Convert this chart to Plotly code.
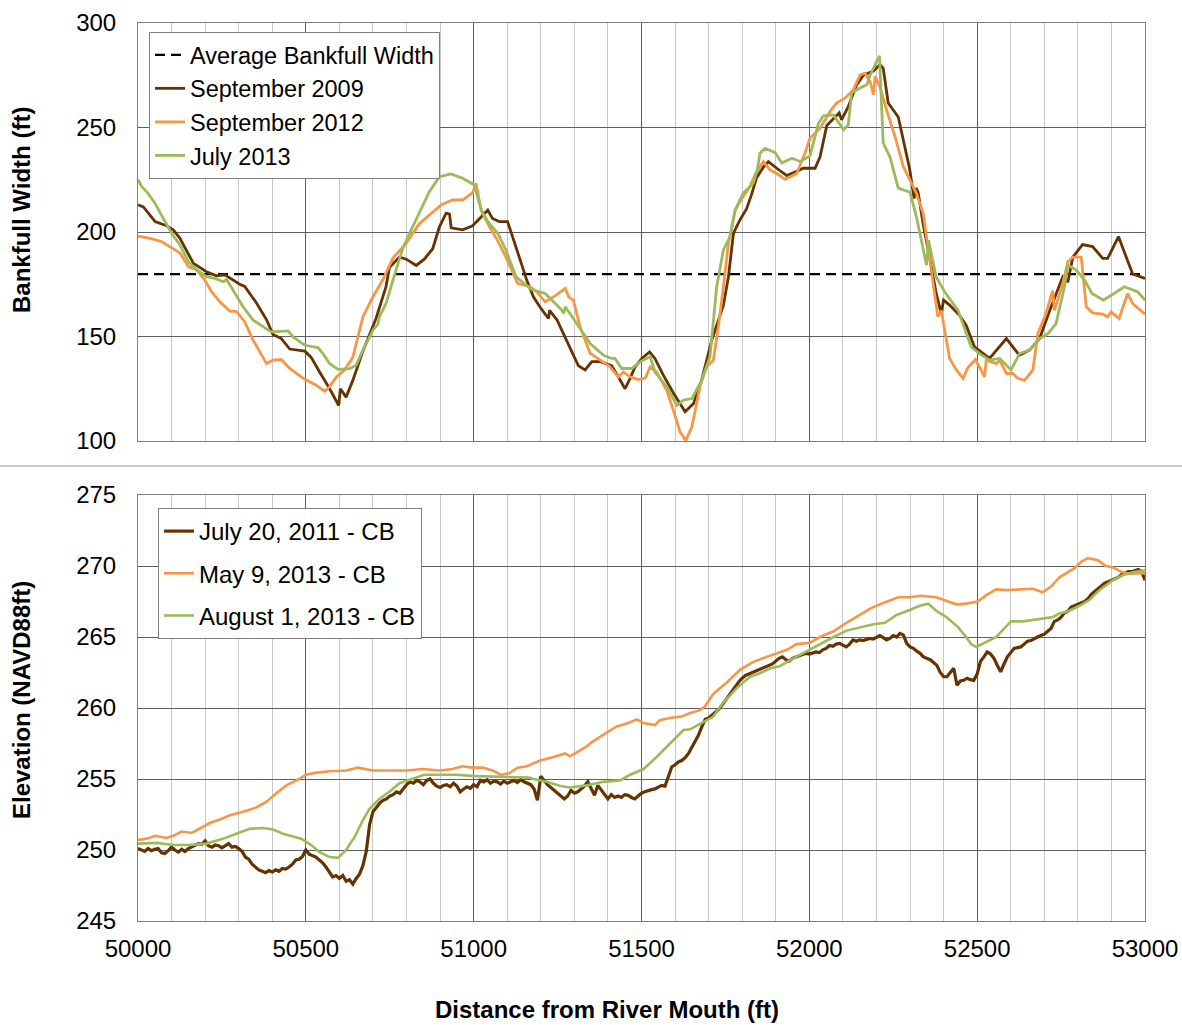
import plotly.graph_objects as go

# ---------------- Bankfull width (top panel) ----------------
avg_width = 179.8

sep2009_x = [50000, 50016, 50051, 50085, 50105, 50125, 50145, 50165, 50204, 50234, 50259, 50303,
             50318, 50353, 50383, 50402, 50427, 50452, 50497, 50516, 50541, 50571, 50598, 50603,
             50620, 50640, 50670, 50710, 50739, 50749, 50779, 50799, 50829, 50853, 50878, 50898,
             50918, 50928, 50933, 50967, 50997, 51017, 51042, 51056, 51076, 51101, 51116, 51148,
             51158, 51178, 51198, 51223, 51226, 51248, 51277, 51312, 51332, 51352, 51377, 51411,
             51431, 51451, 51466, 51481, 51501, 51524, 51540, 51565, 51595, 51630, 51655, 51679,
             51709, 51744, 51759, 51774, 51794, 51813, 51828, 51843, 51863, 51878, 51903, 51933,
             51962, 51982, 52017, 52032, 52052, 52077, 52089, 52096, 52116, 52141, 52161, 52191,
             52210, 52220, 52235, 52265, 52290, 52299, 52312, 52318, 52324, 52339, 52358, 52378,
             52393, 52400, 52418, 52448, 52467, 52492, 52537, 52587, 52626, 52656, 52686, 52715,
             52755, 52770, 52785, 52814, 52844, 52874, 52889, 52921, 52963, 53000]
sep2009_w = [213, 212, 205, 203, 201, 197, 191, 185, 181, 179, 179.5, 175,
             174, 166, 158, 151, 149, 144, 143, 140, 133, 125, 117, 125,
             121, 129, 143, 159, 174, 183, 188, 187, 184, 187, 192, 202.5,
             209, 208.6, 202, 201, 203, 206.5, 210.5, 206.5, 205, 205, 198, 182,
             177, 169, 164, 158.6, 162.5, 158, 148, 136, 134, 138, 138, 136,
             130.7, 125, 130, 135.5, 139.5, 142.6, 139.5, 131.5, 123, 114, 118, 129,
             148, 165, 178.6, 199.4, 206, 211, 218, 226, 231, 233.7, 230.5, 227,
             229, 230.5, 230.5, 236, 251, 255, 257, 253.7, 260, 270.4, 275, 277,
             280, 278.4, 261.7, 255, 237.7, 230, 216, 221, 219, 204, 188, 170.6,
             161, 167.4, 165, 160, 155.4, 145, 139.5, 149, 141, 143.5, 149, 162,
             178.6, 176, 188, 194, 193, 187.4, 187.4, 197.8, 180, 177.8]

sep2012_x = [50000, 50036, 50070, 50105, 50125, 50150, 50174, 50199, 50219, 50244, 50274, 50293,
             50318, 50343, 50383, 50402, 50427, 50452, 50492, 50531, 50556, 50571, 50591, 50615,
             50640, 50660, 50670, 50700, 50729, 50759, 50799, 50838, 50868, 50903, 50937, 50967,
             50997, 51007, 51022, 51047, 51071, 51096, 51131, 51168, 51188, 51213, 51238, 51273,
             51283, 51297, 51317, 51347, 51377, 51406, 51431, 51446, 51466, 51491, 51511, 51526,
             51545, 51575, 51595, 51615, 51632, 51650, 51674, 51694, 51714, 51729, 51744, 51759,
             51779, 51799, 51823, 51838, 51863, 51883, 51903, 51928, 51962, 51987, 52002, 52032,
             52062, 52081, 52106, 52131, 52151, 52166, 52181, 52191, 52196, 52210, 52230, 52255,
             52280, 52299, 52319, 52339, 52358, 52373, 52383, 52393, 52403, 52418, 52438, 52458,
             52472, 52495, 52522, 52527, 52557, 52567, 52587, 52606, 52621, 52641, 52666, 52681,
             52705, 52725, 52730, 52755, 52770, 52785, 52810, 52825, 52844, 52874, 52889, 52899,
             52923, 52948, 52963, 53000]
sep2012_w = [198, 197, 195.4, 191.7, 190, 183.4, 182, 177, 171.4, 166.6, 162, 162,
             157, 148.2, 137, 138.7, 139, 134.7, 130, 126.7, 123.8, 126, 130.7, 134,
             140, 153, 159.4, 169, 177, 187.4, 194.6, 204, 208, 213, 215.3, 215.3,
             218.8, 223.3, 210.5, 202.5, 196, 188, 175.4, 173.8, 171.4, 166.6, 169, 173,
             169, 167.4, 154.6, 142, 138.7, 135.5, 130.7, 133, 130.7, 129.4, 130, 135.5,
             133, 124.3, 114.7, 104.3, 100.3, 106.7, 126, 135.5, 138.7, 154.6, 173.8, 194.6,
             210.5, 216, 221.7, 227.3, 233.7, 229.7, 228, 225.2, 228, 237.7, 245, 249.7,
             257.7, 261.7, 264, 268, 275.2, 276, 272, 265.7, 274.4, 269.6, 258.5, 245.7,
             231.3, 225, 218.5, 209, 186.6, 169, 159.4, 162.5, 153, 139.5, 134, 130,
             135, 139, 130.7, 138.7, 137, 138.7, 132.3, 132.3, 130, 129, 134, 151.4,
             161, 172, 162.5, 175.4, 185.8, 188, 188, 164.2, 161.3, 160.7, 159.4, 161.8,
             158.6, 170.6, 165.8, 160.7]

jul2013_x = [50000, 50011, 50026, 50051, 50075, 50100, 50125, 50150, 50174, 50204, 50229, 50254,
             50264, 50284, 50313, 50343, 50373, 50397, 50447, 50462, 50497, 50536, 50551, 50571,
             50596, 50630, 50650, 50670, 50700, 50715, 50719, 50739, 50769, 50789, 50809, 50839,
             50868, 50898, 50933, 50967, 51002, 51017, 51027, 51047, 51072, 51096, 51126, 51173,
             51213, 51238, 51263, 51268, 51273, 51307, 51347, 51387, 51411, 51421, 51441, 51471,
             51496, 51526, 51540, 51575, 51605, 51625, 51650, 51679, 51704, 51724, 51744, 51764,
             51779, 51803, 51833, 51845, 51853, 51868, 51898, 51918, 51948, 51973, 52002, 52027,
             52042, 52072, 52102, 52116, 52126, 52151, 52171, 52181, 52191, 52209, 52220, 52240,
             52265, 52300, 52319, 52349, 52355, 52378, 52403, 52443, 52482, 52507, 52537, 52567,
             52601, 52626, 52656, 52686, 52711, 52735, 52760, 52770, 52795, 52820, 52842, 52876,
             52908, 52938, 52978, 53000]
jul2013_w = [225, 221.7, 219.3, 213.7, 206.5, 199.4, 193.8, 185.8, 182, 178.6, 177.8, 176.2,
             177.3, 172.2, 164.2, 157.8, 154.6, 152.2, 152.7, 149.8, 145.8, 144.7, 141.8, 137,
             134.3, 134.6, 136.3, 143.5, 153, 156, 159.4, 165.8, 182, 192.2, 199.4, 209.7,
             219.3, 226.5, 227.8, 225.7, 222.5, 213.7, 209, 204, 199.4, 191.4, 178.6, 172.5,
             170.6, 166.6, 162.5, 161, 164.2, 156.2, 146.6, 141, 139.5, 139.5, 134.7, 134.7,
             138, 140.3, 133, 126, 117, 119.6, 120.3, 129, 140.3, 173.8, 191.4, 197.8,
             210.5, 218.5, 223.3, 229.7, 237.7, 240, 238, 233, 235.3, 233.7, 236.4, 252,
             255.6, 256, 248.9, 251.3, 266.5, 268.9, 270.4, 275, 278.4, 284.3, 242.5, 236,
             221, 219, 207.3, 184.2, 196, 178.6, 171.4, 162.5, 145, 141.8, 138.7, 139.5,
             134, 141.8, 143.5, 149, 151.4, 156.2, 173.8, 184.2, 181.8, 177, 170.6, 167.4,
             170.6, 173.8, 171.4, 167.4]

# ---------------- Channel bed elevation (bottom panel) ----------------
# July 20, 2011 survey, one reading every 10 ft from 50000 to 53000
jul2011_x = list(range(50000, 53001, 10))
jul2011_z = [
    250.1, 250.0, 249.9, 250.1, 249.95, 250.05, 250.1, 249.8, 249.75, 249.95, 250.2,
    250.0, 249.85, 250.05, 249.9, 250.1, 250.2, 250.35, 250.45, 250.4, 250.65,
    250.3, 250.2, 250.35, 250.3, 250.15, 250.3, 250.45, 250.2, 250.25, 250.1,
    249.9, 249.5, 249.35, 249.0, 248.8, 248.6, 248.5, 248.4, 248.55, 248.45,
    248.6, 248.5, 248.7, 248.65, 248.8, 249.0, 249.3, 249.35, 249.55, 250.0,
    249.7, 249.6, 249.5, 249.3, 249.1, 248.8, 248.4, 248.1, 248.2, 248.0,
    248.2, 247.8, 247.9, 247.6, 248.0, 248.3, 248.9, 249.9, 251.8, 252.7, 253.0,
    253.3, 253.5, 253.6, 253.8, 253.9, 254.1, 254.0, 254.3, 254.6, 254.8,
    254.7, 254.9, 254.8, 254.6, 254.9, 255.0, 254.7, 254.5, 254.4, 254.55,
    254.6, 254.45, 254.7, 254.5, 254.1, 254.3, 254.45, 254.35, 254.6, 254.45,
    254.9, 254.8, 254.95, 254.7, 254.85, 254.8, 254.65, 254.85, 254.7, 254.8,
    254.9, 254.75, 254.95, 254.8, 254.7, 254.6, 254.3, 253.5, 255.2, 254.9,
    254.6, 254.4, 254.2, 254.0, 253.8, 253.6, 253.8, 254.2, 254.0, 254.1,
    254.3, 254.5, 254.8, 254.3, 253.85, 254.55, 254.2, 253.9, 253.6, 253.9,
    253.7, 253.8, 253.7, 253.9, 253.85, 253.7, 253.6, 253.8, 254.0, 254.1,
    254.2, 254.25, 254.3, 254.4, 254.55, 254.5, 255.1, 255.85, 256.0, 256.2,
    256.3, 256.5, 256.8, 257.2, 257.7, 258.1, 258.7, 259.2, 259.3, 259.5,
    259.7, 259.9, 260.2, 260.55, 260.8, 261.25, 261.5, 261.85, 262.1, 262.3,
    262.4, 262.5, 262.6, 262.7, 262.8, 262.9, 262.95, 263.1, 263.3, 263.5,
    263.6, 263.4, 263.3, 263.5, 263.6, 263.7, 263.75, 263.85, 263.8, 263.9,
    263.95, 263.9, 264.1, 264.2, 264.4, 264.35, 264.5, 264.55, 264.45, 264.3,
    264.5, 264.8, 264.7, 264.8, 264.75, 264.8, 264.9, 264.85, 264.95, 265.1,
    264.95, 264.8, 264.9, 265.1, 265.0, 265.25, 265.15, 264.55, 264.3, 264.2,
    264.0, 263.85, 263.6, 263.5, 263.4, 263.2, 263.0, 262.5, 262.2, 262.2,
    262.5, 262.8, 261.6, 261.9, 261.95, 262.1, 262.0, 261.95, 262.4, 263.3,
    263.6, 263.95, 263.8, 263.5, 263.0, 262.55, 263.1, 263.6, 263.9, 264.2,
    264.25, 264.3, 264.5, 264.7, 264.75, 264.9, 265.0, 265.1, 265.2, 265.4,
    265.6, 266.1, 266.2, 266.4, 266.7, 266.8, 267.1, 267.2, 267.3, 267.4,
    267.5, 267.7, 268.0, 268.2, 268.4, 268.6, 268.8, 268.9, 269.0, 269.1,
    269.2, 269.4, 269.5, 269.6, 269.6, 269.7, 269.75, 269.6, 269.0, 268.8,
]

may2013_x = [50000, 50026, 50051, 50085, 50105, 50130, 50160, 50184, 50214, 50244, 50274, 50313,
             50353, 50383, 50412, 50442, 50472, 50501, 50531, 50571, 50620, 50655, 50700, 50749,
             50799, 50848, 50898, 50937, 50967, 50997, 51027, 51056, 51081, 51106, 51131, 51158,
             51198, 51238, 51272, 51287, 51307, 51337, 51352, 51387, 51426, 51456, 51486, 51506,
             51540, 51555, 51585, 51620, 51645, 51674, 51689, 51714, 51754, 51794, 51833, 51873,
             51903, 51933, 51962, 52002, 52032, 52072, 52101, 52141, 52181, 52220, 52265, 52300,
             52330, 52378, 52408, 52438, 52467, 52502, 52527, 52557, 52586, 52626, 52666, 52695,
             52720, 52745, 52790, 52810, 52830, 52860, 52884, 52904, 52929, 52953, 52983, 53000]
may2013_z = [250.7, 250.8, 251.0, 250.85, 251.0, 251.3, 251.2, 251.5, 251.9, 252.15, 252.45, 252.7,
             253.0, 253.4, 254.0, 254.55, 254.9, 255.3, 255.45, 255.55, 255.6, 255.8, 255.6, 255.6,
             255.6, 255.7, 255.6, 255.7, 255.9, 255.8, 255.8, 255.6, 255.3, 255.4, 255.8, 255.9,
             256.3, 256.55, 256.8, 256.6, 256.9, 257.3, 257.6, 258.15, 258.7, 258.9, 259.2, 258.95,
             258.8, 259.15, 259.3, 259.4, 259.65, 259.85, 260.1, 261.0, 261.8, 262.7, 263.25, 263.6,
             263.85, 264.1, 264.5, 264.6, 265.0, 265.4, 265.85, 266.4, 267.0, 267.4, 267.8, 267.8,
             267.9, 267.8, 267.55, 267.3, 267.35, 267.5, 267.95, 268.35, 268.3, 268.35, 268.4, 268.15,
             268.55, 269.2, 269.85, 270.3, 270.55, 270.4, 270.0, 269.9, 269.6, 269.45, 269.45, 269.5]

aug2013_x = [50000, 50055, 50105, 50155, 50204, 50254, 50293, 50333, 50373, 50402, 50432, 50462,
             50486, 50516, 50541, 50571, 50596, 50620, 50645, 50670, 50690, 50719, 50749, 50779,
             50818, 50853, 50898, 50947, 51007, 51066, 51116, 51166, 51178, 51218, 51258, 51287,
             51337, 51387, 51436, 51466, 51506, 51545, 51585, 51625, 51645, 51674, 51714, 51744,
             51784, 51823, 51853, 51883, 51913, 51952, 51992, 52032, 52072, 52111, 52151, 52191,
             52225, 52260, 52299, 52329, 52354, 52378, 52408, 52443, 52467, 52482, 52497, 52527,
             52557, 52581, 52601, 52636, 52676, 52725, 52745, 52770, 52805, 52834, 52864, 52904,
             52933, 52963, 53000]
aug2013_z = [250.45, 250.5, 250.35, 250.35, 250.45, 250.8, 251.15, 251.5, 251.55, 251.45, 251.15, 250.95,
             250.8, 250.35, 249.85, 249.5, 249.45, 250.0, 250.9, 252.1, 252.9, 253.6, 254.1, 254.7,
             255.0, 255.3, 255.3, 255.3, 255.2, 255.15, 255.15, 255.1, 255.0, 254.8, 254.5, 254.4,
             254.55, 254.8, 254.9, 255.3, 255.7, 256.55, 257.5, 258.45, 258.5, 258.9, 259.4, 260.4,
             261.4, 262.2, 262.45, 262.8, 262.95, 263.5, 264.0, 264.55, 265.0, 265.45, 265.7, 265.9,
             266.0, 266.55, 266.9, 267.2, 267.35, 266.85, 266.4, 265.7, 265.0, 264.5, 264.3, 264.65,
             265.0, 265.6, 266.1, 266.1, 266.25, 266.4, 266.65, 266.8, 267.2, 267.6, 268.3, 269.0,
             269.35, 269.55, 269.7]

BROWN = "#663300"
ORANGE = "#f79646"
GREEN = "#9bbb59"
FONT = "Liberation Sans, Arial, sans-serif"

fig = go.Figure()

# top panel
fig.add_trace(go.Scatter(x=[50000, 53000], y=[avg_width, avg_width], mode="lines",
                         name="Average Bankfull Width", legendgroup="a",
                         line=dict(color="black", width=2.2, dash="10px,6px"),
                         xaxis="x", yaxis="y", legend="legend"))
fig.add_trace(go.Scatter(x=sep2009_x, y=sep2009_w, mode="lines", name="September 2009",
                         legendgroup="b", line=dict(color=BROWN, width=2.8),
                         xaxis="x", yaxis="y", legend="legend"))
fig.add_trace(go.Scatter(x=sep2012_x, y=sep2012_w, mode="lines", name="September 2012",
                         legendgroup="c", line=dict(color=ORANGE, width=2.8),
                         xaxis="x", yaxis="y", legend="legend"))
fig.add_trace(go.Scatter(x=jul2013_x, y=jul2013_w, mode="lines", name="July 2013",
                         legendgroup="d", line=dict(color=GREEN, width=2.8),
                         xaxis="x", yaxis="y", legend="legend"))

# bottom panel
fig.add_trace(go.Scatter(x=jul2011_x, y=jul2011_z, mode="lines", name="July 20, 2011 - CB",
                         legendgroup="e", line=dict(color=BROWN, width=3.2),
                         xaxis="x2", yaxis="y2", legend="legend2"))
fig.add_trace(go.Scatter(x=may2013_x, y=may2013_z, mode="lines", name="May 9, 2013 - CB",
                         legendgroup="f", line=dict(color=ORANGE, width=2.6),
                         xaxis="x2", yaxis="y2", legend="legend2"))
fig.add_trace(go.Scatter(x=aug2013_x, y=aug2013_z, mode="lines", name="August 1, 2013 - CB",
                         legendgroup="g", line=dict(color=GREEN, width=2.6),
                         xaxis="x2", yaxis="y2", legend="legend2"))

W, H = 1182, 1025
L, R, T, B = 138, 37, 23, 104
plot_h = H - T - B
bottom_px = H - B


def py(p):
    """Pixel row (from top) to paper y."""
    return (bottom_px - p) / plot_h


def px(p):
    """Pixel column (from left) to paper x."""
    return (p - L) / (W - L - R)


xcommon = dict(range=[50000, 53000], dtick=500, tickformat="d", showgrid=True,
               gridcolor="#5f5f5f", gridwidth=1, automargin=False,
               minor=dict(dtick=100, showgrid=True, gridcolor="#c8c8c8", gridwidth=1),
               showline=True, linecolor="#7f7f7f", linewidth=1, mirror=True,
               zeroline=False, ticks="", tickfont=dict(size=24, color="black", family=FONT))
ycommon = dict(showgrid=True, gridcolor="#5f5f5f", gridwidth=1, showline=True,
               linecolor="#7f7f7f", linewidth=1, mirror=True, zeroline=False, ticks="",
               automargin=False,
               tickfont=dict(size=24, color="black", family=FONT), ticklabelstandoff=16)

fig.update_layout(
    width=W, height=H,
    margin=dict(l=L, r=R, t=T, b=B),
    paper_bgcolor="white", plot_bgcolor="white",
    font=dict(family=FONT, color="black", size=24),
    xaxis=dict(**xcommon, domain=[0, 1], anchor="y", showticklabels=False),
    yaxis=dict(**ycommon, domain=[py(441), 1], range=[100, 300], dtick=50, anchor="x"),
    xaxis2=dict(**xcommon, domain=[0, 1], anchor="y2", showticklabels=True, ticklabelstandoff=6),
    yaxis2=dict(**ycommon, domain=[0, py(495)], range=[245, 275], dtick=5, anchor="x2"),
    legend=dict(x=px(149), y=py(32), xanchor="left", yanchor="top", bgcolor="white",
                bordercolor="#808080", borderwidth=1, font=dict(size=23.5, family=FONT),
                tracegroupgap=0, traceorder="grouped"),
    legend2=dict(x=px(158), y=py(508), xanchor="left", yanchor="top", bgcolor="white",
                 bordercolor="#808080", borderwidth=1, font=dict(size=24, family=FONT),
                 tracegroupgap=8, traceorder="grouped"),
    showlegend=True,
)

# axis titles
title_font = dict(size=24, family=FONT, color="black")
fig.add_annotation(text="<b>Bankfull Width (ft)</b>", xref="paper", yref="paper",
                   x=px(22), y=py(210), xanchor="center", yanchor="middle",
                   textangle=-90, showarrow=False, font=title_font)
fig.add_annotation(text="<b>Elevation (NAVD88ft)</b>", xref="paper", yref="paper",
                   x=px(22), y=py(700), xanchor="center", yanchor="middle",
                   textangle=-90, showarrow=False, font=title_font)
fig.add_annotation(text="<b>Distance from River Mouth (ft)</b>", xref="paper", yref="paper",
                   x=px(607), y=py(1009), xanchor="center", yanchor="middle",
                   showarrow=False, font=title_font, borderpad=0)

# divider between the two panels
fig.add_shape(type="line", xref="paper", yref="paper", x0=px(0), x1=px(1182),
              y0=py(466), y1=py(466), line=dict(color="#c8c8c8", width=2))

fig.write_html("out.html")
